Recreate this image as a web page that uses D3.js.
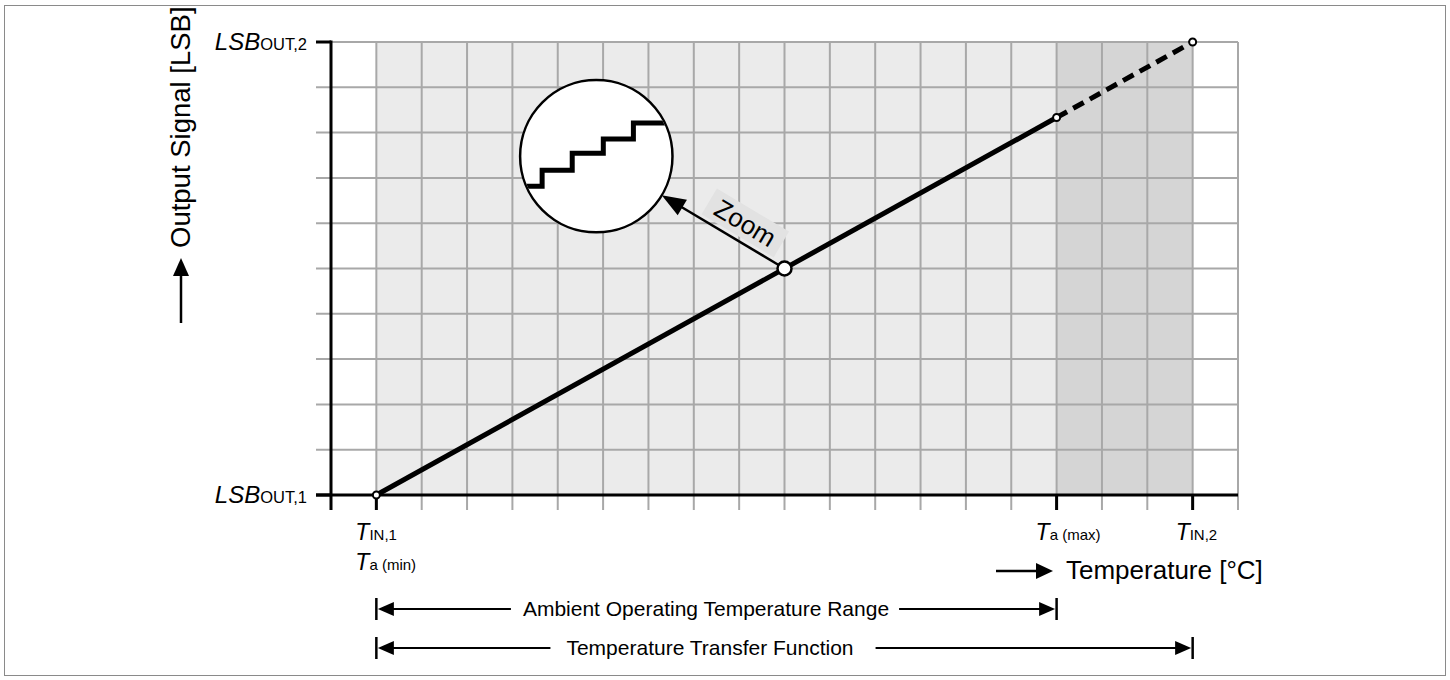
<!DOCTYPE html>
<html><head><meta charset="utf-8">
<script src="https://cdn.jsdelivr.net/npm/d3@7"></script>
<style>
body{margin:0;background:#fff}
svg{display:block}
text{font-family:"Liberation Sans",Arial,Helvetica,sans-serif;fill:#000}
</style>
</head><body>
<svg id="c" width="1450" height="680"></svg>
<script>
// ---------------- data ----------------
const tempDomain = [0, 20];
const lsbDomain = [0, 10];
const tempGrid = [1,2,3,4,5,6,7,8,9,10,11,12,13,14,15,16,17,18,19,20];
const lsbGrid = [1,2,3,4,5,6,7,8,9,10];
const majorTemps = [1, 16, 19];
const majorLsb = [0, 10];
const bands = [[1, 16], [16, 19]];
const xTickLabels = [
  {t: 1, main: "T", sub: "IN,1", row: 0},
  {t: 1, main: "T", sub: "a (min)", row: 1},
  {t: 16, main: "T", sub: "a (max)", row: 0},
  {t: 19, main: "T", sub: "IN,2", row: 0}
];
const yTickLabels = [
  {lsb: 0, main: "LSB", sub: "OUT,1"},
  {lsb: 10, main: "LSB", sub: "OUT,2"}
];
const solidSegment = [{t: 1, lsb: 0}, {t: 16, lsb: 8.333}];
const dashedSegment = [{t: 16, lsb: 8.333}, {t: 19, lsb: 10}];
const endPoints = [{t: 1, lsb: 0}, {t: 16, lsb: 8.333}, {t: 19, lsb: 10}];
const zoomPoint = {t: 10, lsb: 5};
const zoomInset = {t: 5.85, lsb: 7.48, r: 1.68};
// staircase inside the zoom inset, inset-local units (-1..1, y up)
const stairX = [-0.95, -0.711, -0.711, -0.316, -0.316, 0.092, 0.092, 0.487, 0.487, 0.98];
const stairY = [-0.395, -0.395, -0.184, -0.184, 0.039, 0.039, 0.224, 0.224, 0.434, 0.434];
const ranges = [
  {label: "Ambient Operating Temperature Range", from: 1, to: 16},
  {label: "Temperature Transfer Function", from: 1, to: 19}
];
const yTitle = "Output Signal [LSB]";
const xTitle = "Temperature [°C]";
const zoomLabel = "Zoom";

// ---------------- layout / style ----------------
const svg = d3.select("#c");
const x = d3.scaleLinear(tempDomain, [331, 1238]);
const y = d3.scaleLinear(lsbDomain, [495, 42]);
const TICK = 15;
const bandColors = ["#ebebeb", "#d5d5d5"];
const gridColor = "#a8a8a8";
const xLabelDx = [-21, -21, -21, -17];
const rangeRowY = [609, 648];
const rangeTextCx = [706, 710];
const rangeGaps = [[12, 10], [16, 22]];

function arrowHead(g, tipX, tipY, ang, len, hw) {
  const c = Math.cos(ang), s = Math.sin(ang);
  const bx = tipX - len * c, by = tipY - len * s;
  g.append("path")
    .attr("d", `M${tipX},${tipY}L${bx - hw * s},${by + hw * c}L${bx + hw * s},${by - hw * c}Z`)
    .attr("fill", "#000");
}

// frame
svg.append("rect").attr("x", 4.5).attr("y", 5.5).attr("width", 1441).attr("height", 670)
  .attr("fill", "#fff").attr("stroke", "#8a8a8a").attr("stroke-width", 1);

// shaded bands
svg.selectAll(".band").data(bands).join("rect").attr("class", "band")
  .attr("x", d => x(d[0])).attr("width", d => x(d[1]) - x(d[0]))
  .attr("y", y(lsbDomain[1])).attr("height", y(lsbDomain[0]) - y(lsbDomain[1]))
  .attr("fill", (d, i) => bandColors[i]);

// grid
svg.selectAll(".vg").data(tempGrid).join("line").attr("class", "vg")
  .attr("x1", d => x(d)).attr("x2", d => x(d))
  .attr("y1", y(lsbDomain[1])).attr("y2", y(lsbDomain[0]) + TICK)
  .attr("stroke", gridColor).attr("stroke-width", 2);
svg.selectAll(".hg").data(lsbGrid).join("line").attr("class", "hg")
  .attr("x1", x(0) - TICK).attr("x2", x(tempDomain[1]))
  .attr("y1", d => y(d)).attr("y2", d => y(d))
  .attr("stroke", gridColor).attr("stroke-width", 2);

// axes
const axG = svg.append("g").attr("stroke", "#000").attr("stroke-width", 3);
axG.append("line").attr("x1", x(0)).attr("x2", x(0)).attr("y1", y(lsbDomain[1]) - 1.5).attr("y2", y(0) + TICK);
axG.append("line").attr("x1", x(0) - TICK).attr("x2", x(tempDomain[1])).attr("y1", y(0)).attr("y2", y(0));
axG.selectAll(".mt").data(majorTemps).join("line")
  .attr("x1", d => x(d)).attr("x2", d => x(d)).attr("y1", y(0)).attr("y2", y(0) + TICK);
axG.selectAll(".ml").data(majorLsb).join("line")
  .attr("x1", x(0) - TICK).attr("x2", x(0)).attr("y1", d => y(d)).attr("y2", d => y(d));

// tick labels
const yl = svg.selectAll(".yl").data(yTickLabels).join("text").attr("class", "yl")
  .attr("x", x(0) - TICK - 9).attr("y", d => y(d.lsb) + 8).attr("text-anchor", "end");
yl.append("tspan").attr("font-style", "italic").attr("font-size", 24).text(d => d.main);
yl.append("tspan").attr("font-size", 16.5).text(d => d.sub);

const xl = svg.selectAll(".xl").data(xTickLabels).join("text").attr("class", "xl")
  .attr("x", (d, i) => x(d.t) + xLabelDx[i]).attr("y", d => y(0) + 45 + d.row * 30);
xl.append("tspan").attr("font-style", "italic").attr("font-size", 23).text(d => d.main);
xl.append("tspan").attr("font-size", 15).text(d => d.sub);

// axis titles
svg.append("text").attr("transform", "translate(190,248) rotate(-90)")
  .attr("font-size", 27.5).text(yTitle);
svg.append("line").attr("x1", 181).attr("x2", 181).attr("y1", 323).attr("y2", 272)
  .attr("stroke", "#000").attr("stroke-width", 2.5);
arrowHead(svg, 181, 258, -Math.PI / 2, 18, 8);

svg.append("text").attr("x", 1066).attr("y", 579).attr("font-size", 26).text(xTitle);
svg.append("line").attr("x1", 996).attr("x2", 1040).attr("y1", 571).attr("y2", 571)
  .attr("stroke", "#000").attr("stroke-width", 2.5);
arrowHead(svg, 1053, 571, 0, 17, 8);

// transfer function
const line = d3.line().x(d => x(d.t)).y(d => y(d.lsb));
svg.append("path").attr("d", line(solidSegment)).attr("fill", "none")
  .attr("stroke", "#000").attr("stroke-width", 5);
svg.append("path").attr("d", line(dashedSegment)).attr("fill", "none")
  .attr("stroke", "#000").attr("stroke-width", 5).attr("stroke-dasharray", "12,7");
svg.selectAll(".ep").data(endPoints).join("circle").attr("class", "ep")
  .attr("cx", d => x(d.t)).attr("cy", d => y(d.lsb)).attr("r", 3.5)
  .attr("fill", "#fff").attr("stroke", "#000").attr("stroke-width", 2);

// zoom inset
const cx = x(zoomInset.t), cy = y(zoomInset.lsb);
const R = x(zoomInset.t + zoomInset.r) - cx;
const defs = svg.append("defs");
defs.append("clipPath").attr("id", "insetClip").append("circle")
  .attr("cx", cx).attr("cy", cy).attr("r", R - 1);
svg.append("circle").attr("cx", cx).attr("cy", cy).attr("r", R)
  .attr("fill", "#fff").attr("stroke", "#000").attr("stroke-width", 2.5);
const sx = d3.scaleLinear([-1, 1], [cx - R, cx + R]);
const sy = d3.scaleLinear([-1, 1], [cy + R, cy - R]);
const stairPts = stairX.map((v, i) => [sx(v), sy(stairY[i])]);
svg.append("path").attr("d", d3.line()(stairPts)).attr("fill", "none")
  .attr("stroke", "#000").attr("stroke-width", 5).attr("clip-path", "url(#insetClip)");

// zoom arrow + label
const px = x(zoomPoint.t), py = y(zoomPoint.lsb);
const ang = Math.atan2(py - cy, px - cx);
const tipX = cx + R * Math.cos(ang), tipY = cy + R * Math.sin(ang);
const headLen = 24;
svg.append("line").attr("x1", px).attr("y1", py)
  .attr("x2", tipX + (headLen - 2) * Math.cos(ang)).attr("y2", tipY + (headLen - 2) * Math.sin(ang))
  .attr("stroke", "#000").attr("stroke-width", 2.5);
arrowHead(svg, tipX, tipY, ang + Math.PI, headLen, 9);
const lg = svg.append("g").attr("transform", `translate(${px},${py}) rotate(${ang * 180 / Math.PI})`);
lg.append("rect").attr("x", -57 - 42).attr("y", -19 - 15).attr("width", 84).attr("height", 30)
  .attr("fill", "#e2e2e2");
lg.append("text").attr("x", -57).attr("y", -19 + 9).attr("text-anchor", "middle")
  .attr("font-size", 26).text(zoomLabel);
svg.append("circle").attr("cx", px).attr("cy", py).attr("r", 7)
  .attr("fill", "#fff").attr("stroke", "#000").attr("stroke-width", 2.5);

// range rows
ranges.forEach((rg, i) => {
  const ry = rangeRowY[i];
  const g = svg.append("g");
  const t = g.append("text").attr("x", rangeTextCx[i]).attr("y", ry + 7)
    .attr("text-anchor", "middle").attr("font-size", 21).text(rg.label);
  const w = t.node().getComputedTextLength();
  const x0 = x(rg.from), x1 = x(rg.to);
  [x0, x1].forEach(v => g.append("line").attr("x1", v).attr("x2", v)
    .attr("y1", ry - 11).attr("y2", ry + 11).attr("stroke", "#000").attr("stroke-width", 2.5));
  g.append("line").attr("x1", x0 + 10).attr("x2", rangeTextCx[i] - w / 2 - rangeGaps[i][0])
    .attr("y1", ry).attr("y2", ry).attr("stroke", "#000").attr("stroke-width", 2);
  g.append("line").attr("x1", rangeTextCx[i] + w / 2 + rangeGaps[i][1]).attr("x2", x1 - 10)
    .attr("y1", ry).attr("y2", ry).attr("stroke", "#000").attr("stroke-width", 2);
  arrowHead(g, x0 + 1.5, ry, Math.PI, 16, 7);
  arrowHead(g, x1 - 1.5, ry, 0, 16, 7);
});
</script>
</body></html>
